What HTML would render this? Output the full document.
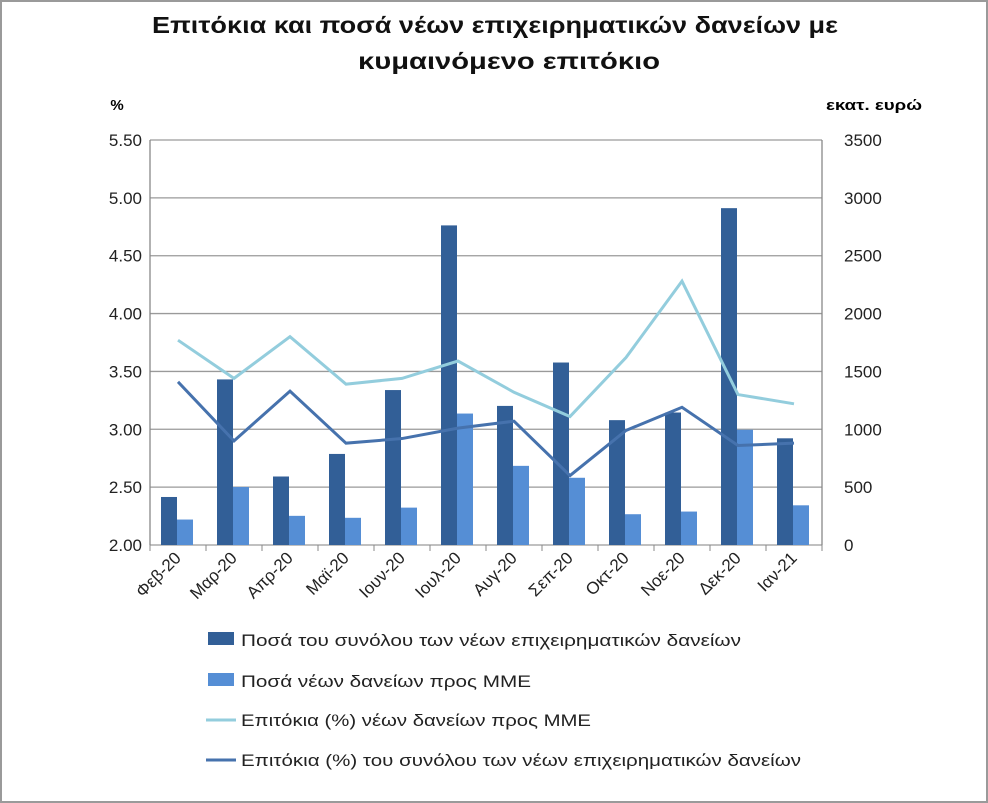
<!DOCTYPE html>
<html><head><meta charset="utf-8"><style>
body{margin:0;background:#fff;font-family:"Liberation Sans",sans-serif}
#frame{position:absolute;left:0;top:0;width:984px;height:799px;border:2px solid #9a9a9a;background:#fff}
</style></head><body>
<div id="frame"></div>
<svg id="c" width="988" height="803" style="position:absolute;left:0;top:0" font-family="Liberation Sans, sans-serif"></svg>
<script>
const categories=["Φεβ-20","Μαρ-20","Απρ-20","Μαϊ-20","Ιουν-20","Ιουλ-20","Αυγ-20","Σεπ-20","Οκτ-20","Νοε-20","Δεκ-20","Ιαν-21"];
const totalAmounts=[415,1431,592,787,1339,2762,1202,1577,1079,1145,2911,922];
const smeAmounts=[220,501,252,235,323,1136,684,581,266,289,996,343];
const smeRates=[3.77,3.44,3.80,3.39,3.44,3.59,3.32,3.11,3.62,4.28,3.30,3.22];
const totalRates=[3.41,2.90,3.33,2.88,2.92,3.01,3.07,2.60,2.99,3.19,2.86,2.88];
const leftTicks=["2.00","2.50","3.00","3.50","4.00","4.50","5.00","5.50"];
const rightTicks=["0","500","1000","1500","2000","2500","3000","3500"];
const legendLabels=["Ποσά του συνόλου των νέων επιχειρηματικών δανείων","Ποσά νέων δανείων προς ΜΜΕ","Επιτόκια (%) νέων δανείων προς ΜΜΕ","Επιτόκια (%) του συνόλου των νέων επιχειρηματικών δανείων"];
const legendWidths=[500,290,350,560];
const svg=document.getElementById('c');const NS='http://www.w3.org/2000/svg';
const L=150,R=822,T=140,B=545;
const yL=v=>B-(v-2)/3.5*(B-T);
const yR=v=>B-v/3500*(B-T);
const cw=(R-L)/categories.length;
const xc=i=>L+cw*(i+0.5);
function el(t,a,txt){const e=document.createElementNS(NS,t);for(const k in a)e.setAttribute(k,a[k]);if(txt!==undefined)e.textContent=txt;svg.appendChild(e);return e;}
let t=el('text',{x:495,y:33,'text-anchor':'middle','font-size':23,'font-weight':'bold',fill:'#111',textLength:686,lengthAdjust:'spacingAndGlyphs'},'Επιτόκια και ποσά νέων επιχειρηματικών δανείων με');

t=el('text',{x:509,y:69,'text-anchor':'middle','font-size':23,'font-weight':'bold',fill:'#111',textLength:302,lengthAdjust:'spacingAndGlyphs'},'κυμαινόμενο επιτόκιο');

t=el('text',{x:117,y:110,'text-anchor':'middle','font-size':15,'font-weight':'bold'},'%');

t=el('text',{x:874,y:110,'text-anchor':'middle','font-size':15,'font-weight':'bold',textLength:96,lengthAdjust:'spacingAndGlyphs'},'εκατ. ευρώ');

leftTicks.forEach((s,i)=>{const y=yL(parseFloat(s));
 const g=el('line',{x1:L,x2:R,y1:y,y2:y,stroke:'#9a9a9a','stroke-width':1.3});
 
 const a=el('text',{x:L-8,y:y+6,'text-anchor':'end','font-size':17,fill:'#222'},s);
 
 const b=el('text',{x:R+22,y:y+6,'font-size':17,fill:'#222'},rightTicks[i]);
 
});
[L,R].forEach(x=>{const a=el('line',{x1:x,x2:x,y1:T,y2:B,stroke:'#888','stroke-width':1.3});});
for(let i=0;i<=categories.length;i++){const x=L+cw*i;const k=el('line',{x1:x,x2:x,y1:B,y2:B+6,stroke:'#888'});}
const bw=16;
categories.forEach((c,i)=>{
 const x=xc(i);
 let r=el('rect',{x:x-bw-1,y:yR(totalAmounts[i]),width:bw,height:B-yR(totalAmounts[i]),fill:'#325f97'});
 
 r=el('rect',{x:x-1,y:yR(smeAmounts[i]),width:bw,height:B-yR(smeAmounts[i]),fill:'#558ed5'});
 
 const lx=x+4,ly=B+14;
 const tx=el('text',{x:lx,y:ly,'text-anchor':'end','font-size':17,fill:'#222',transform:`rotate(-45 ${lx} ${ly})`},c);
 
});
function line(vals,col,name){const p=el('polyline',{points:vals.map((v,i)=>xc(i)+','+yL(v)).join(' '),fill:'none',stroke:col,'stroke-width':3});}
line(smeRates,'#93cddd','line-sme-rates');
line(totalRates,'#4672ad','line-total-rates');
const legY=[640,681,720,760];
legendLabels.forEach((s,i)=>{const y=legY[i];
 let m;
 if(i<2){m=el('rect',{x:208,y:y-8,width:26,height:13,fill:i==0?'#325f97':'#558ed5'});}
 else{m=el('line',{x1:206,x2:236,y1:y,y2:y,stroke:i==2?'#93cddd':'#4672ad','stroke-width':3});}
 
 const tx=el('text',{x:241,y:y+6,'font-size':17,fill:'#222',textLength:legendWidths[i],lengthAdjust:'spacingAndGlyphs'},s);
 
});
</script>
</body></html>
